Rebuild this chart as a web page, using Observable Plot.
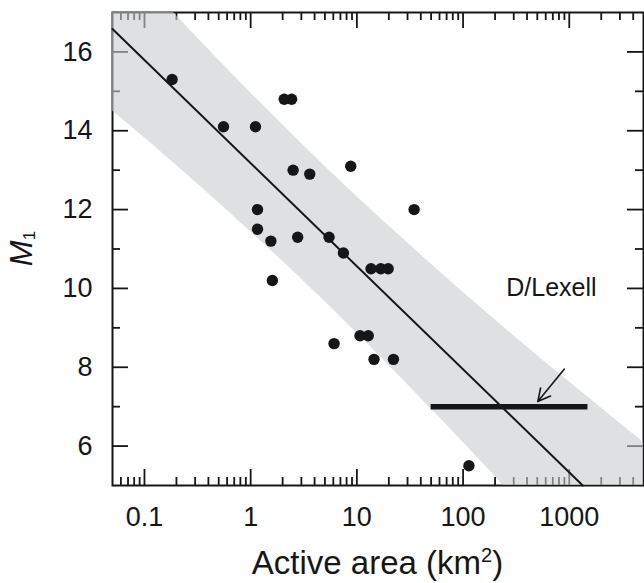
<!DOCTYPE html>
<html><head><meta charset="utf-8">
<script src="https://cdn.jsdelivr.net/npm/d3@7"></script>
<script src="https://cdn.jsdelivr.net/npm/@observablehq/plot@0.6"></script>
<style>body{margin:0;background:#fff}</style>
</head><body><div id="chart"></div>
<script>
// Comet data: active area (km^2) vs absolute magnitude M1
const areas = [0.182, 0.555, 1.11, 2.07, 2.43, 2.51, 3.6, 1.16, 1.16, 1.55, 2.77, 1.6, 8.75, 34.6, 5.47, 7.47, 13.6, 16.8, 19.7, 6.1, 10.7, 12.8, 14.5, 22.1, 113.5];
const m1s   = [15.3, 14.1, 14.1, 14.8, 14.8, 13.0, 12.9, 12.0, 11.5, 11.2, 11.3, 10.2, 13.1, 12.0, 11.3, 10.9, 10.5, 10.5, 10.5, 8.6, 8.8, 8.8, 8.2, 8.2, 5.5];

// Fit line (read end points)
const fitArea = [0.05, 1340];
const fitM1 = [16.58, 5.0];

// Shaded band edges
const bandArea  = [0.05, 0.1, 0.316, 1, 3.16, 10, 31.6, 100, 316, 1000, 3160, 5000];
const bandUpper = [18.66, 17.79, 16.35, 14.96, 13.62, 12.33, 11.10, 9.90, 8.75, 7.63, 6.53, 6.10];
const bandLower = [14.50, 13.82, 12.65, 11.44, 10.18, 8.87, 7.50, 6.10, 4.65, 3.17, 1.67, 1.06];

// D/Lexell range bar and arrow
const lexellArea = [50, 1500];
const lexellM1 = 7.0;
const arrowFrom = {area: 896, m1: 7.95};
const arrowTo = {area: 505, m1: 7.13};
const lexellLabel = {area: 679, m1: 10.0, text: "D/Lexell"};

// Axes
const xMajor = [0.1, 1, 10, 100, 1000];
const xTickLabels = ["0.1", "1", "10", "100", "1000"];
const decades = [0.01, 0.1, 1, 10, 100, 1000];
const mults = [2, 3, 4, 5, 6, 7, 8, 9];
const xMinor = decades.flatMap(d => mults.map(m => +(d * m).toPrecision(3))).filter(v => v > 0.05 && v < 5000);
const yMajor = [6, 8, 10, 12, 14, 16];
const yMinor = [7, 9, 11, 13, 15];

const points = areas.map((a, i) => ({area: a, m1: m1s[i]}));
const fitLine = fitArea.map((a, i) => ({area: a, m1: fitM1[i]}));
const band = bandArea.map((a, i) => ({area: a, lo: bandLower[i], hi: bandUpper[i]}));

const W = 644, H = 583, mL = 112, mR = 1, mT = 12, mB = 98;
const fw = W - mL - mR, fh = H - mT - mB;
const ink = "#161616";
const font = "'Liberation Sans', Arial, sans-serif";

const chart = Plot.plot({
  width: W, height: H, marginLeft: mL, marginRight: mR, marginTop: mT, marginBottom: mB,
  style: {fontFamily: font, fontSize: "26px", color: ink, background: "white"},
  x: {type: "log", domain: [0.05, 5000]},
  y: {domain: [5, 17]},
  marks: [
    Plot.axisX({ticks: xMajor, tickSize: 0, tickPadding: 21, tickFormat: d => xTickLabels[xMajor.indexOf(d)], label: null}),
    Plot.axisY({ticks: yMajor, tickSize: 0, tickPadding: 20, label: null}),
    Plot.frame({stroke: ink, strokeWidth: 2}),
    // inward ticks on all four sides
    Plot.tickX(xMajor, {x: d => d, insetTop: fh - 16, stroke: ink, strokeWidth: 1.8}),
    Plot.tickX(xMajor, {x: d => d, insetBottom: fh - 16, stroke: ink, strokeWidth: 1.8}),
    Plot.tickX(xMinor, {x: d => d, insetTop: fh - 8, stroke: ink, strokeWidth: 1.8}),
    Plot.tickX(xMinor, {x: d => d, insetBottom: fh - 8, stroke: ink, strokeWidth: 1.8}),
    Plot.tickY(yMajor, {y: d => d, insetRight: fw - 16, stroke: ink, strokeWidth: 1.8}),
    Plot.tickY(yMajor, {y: d => d, insetLeft: fw - 16, stroke: ink, strokeWidth: 1.8}),
    Plot.tickY(yMinor, {y: d => d, insetRight: fw - 8, stroke: ink, strokeWidth: 1.8}),
    Plot.tickY(yMinor, {y: d => d, insetLeft: fw - 8, stroke: ink, strokeWidth: 1.8}),
    // band
    Plot.areaY(band, {x: "area", y1: "lo", y2: "hi", curve: "natural", fill: "#c9cbce", fillOpacity: 0.6, clip: true}),
    // fit line
    Plot.line(fitLine, {x: "area", y: "m1", stroke: ink, strokeWidth: 2}),
    // D/Lexell bar
    Plot.ruleY([lexellM1], {x1: lexellArea[0], x2: lexellArea[1], stroke: ink, strokeWidth: 5.5}),
    Plot.arrow([0], {x1: arrowFrom.area, y1: arrowFrom.m1, x2: arrowTo.area, y2: arrowTo.m1, stroke: ink, strokeWidth: 1.6, headLength: 13, headAngle: 55}),
    Plot.text([lexellLabel], {x: "area", y: "m1", text: "text", fontSize: 25, fill: ink}),
    Plot.dot(points, {x: "area", y: "m1", r: 5.7, fill: ink, stroke: "none"})
  ]
});
document.getElementById("chart").appendChild(chart);

const svg = d3.select(chart);
// enlarge tick labels
svg.selectAll("g[aria-label='x-axis tick label'], g[aria-label='y-axis tick label']")
  .attr("font-size", 27).style("font-size", "27px");

// Axis titles with super/subscripts
const xt = svg.append("text")
  .attr("x", mL + fw / 2).attr("y", 574).attr("text-anchor", "middle")
  .attr("font-size", 33).attr("fill", ink).attr("font-family", font);
xt.append("tspan").text("Active area (km");
xt.append("tspan").attr("font-size", 20).attr("dy", -12).text("2");
xt.append("tspan").attr("dy", 12).text(")");

const yt = svg.append("text")
  .attr("transform", `translate(32,${mT + fh / 2}) rotate(-90)`)
  .attr("text-anchor", "middle").attr("font-size", 31).attr("fill", ink).attr("font-family", font);
yt.append("tspan").attr("font-style", "italic").text("M");
yt.append("tspan").attr("font-size", 17).attr("dy", 3).text("1");
</script>
</body></html>
